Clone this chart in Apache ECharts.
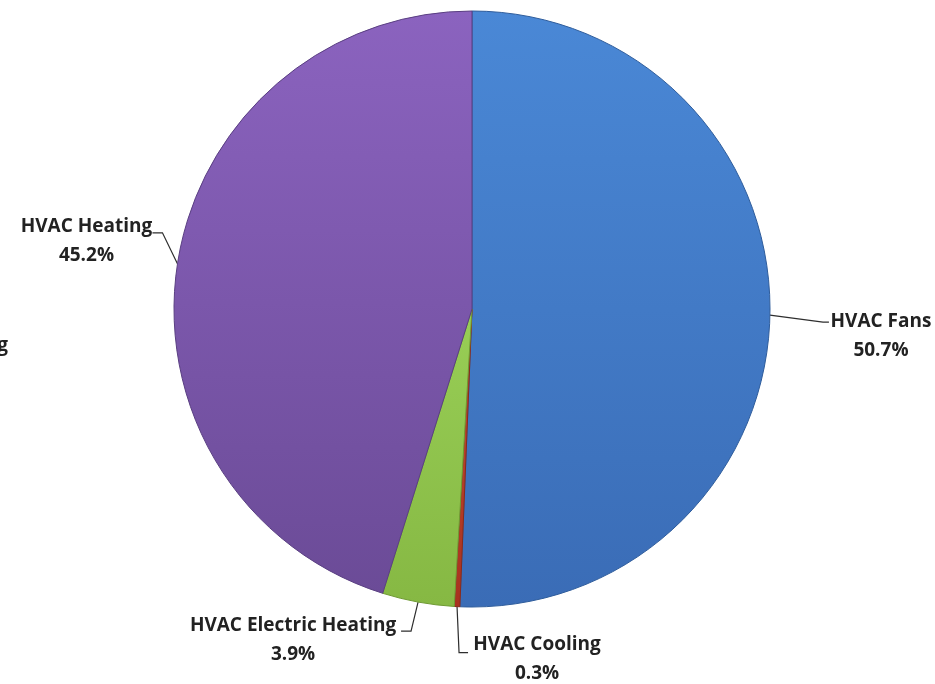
<!DOCTYPE html>
<html>
<head>
<meta charset="utf-8">
<script src="https://cdn.jsdelivr.net/npm/echarts@6/dist/echarts.min.js"></script>
<style>
  html, body { margin: 0; padding: 0; background: #ffffff; }
  #chart { width: 935px; height: 684px; }
</style>
</head>
<body>
<div id="chart"></div>
<script>
// HVAC energy end-use shares (percent)
const categories = ['HVAC Fans', 'HVAC Cooling', 'HVAC Electric Heating', 'HVAC Heating'];
const shares = [50.7, 0.3, 3.9, 45.2];

// Slice fills: lighter tone at the top, deeper tone at the bottom
const topColors = ['#4a88d6', '#c44a36', '#98ce56', '#8b63bf'];
const bottomColors = ['#3a6cb6', '#a8321f', '#86b843', '#6b4b97'];
const edgeColors = ['#2f5d9c', '#8a2a1a', '#6f9a34', '#5a3f82'];

// Where each label sits relative to the point where its leader leaves the rim:
// [text dx, text dy, elbow dx, elbow dy, end dx]
const labelOffsets = {
  'HVAC Fans': [111, 21, 53, 7, 6],
  'HVAC Cooling': [80, 52, 2, 46, 9],
  'HVAC Electric Heating': [-125, 38, -7, 29, -10],
  'HVAC Heating': [-91, -23, -15, -31, -10]
};

const FONT = '"Open Sans", Lato, sans-serif';

const chart = echarts.init(document.getElementById('chart'), null, { renderer: 'canvas' });

const data = categories.map((name, i) => ({
  name: name,
  value: shares[i],
  itemStyle: {
    color: new echarts.graphic.LinearGradient(0, 0, 0, 1, [
      { offset: 0, color: topColors[i] },
      { offset: 1, color: bottomColors[i] }
    ]),
    borderColor: edgeColors[i],
    borderWidth: 1
  }
}));

chart.setOption({
  backgroundColor: '#ffffff',
  animation: false,
  graphic: [{
    type: 'text',
    right: 927,
    top: 336,
    style: {
      text: 'Lighting',
      font: 'bold 19px ' + FONT,
      fill: '#222222'
    }
  }],
  series: [{
    type: 'pie',
    center: [472, 309],
    radius: 298,
    startAngle: 90,
    clockwise: true,
    data: data,
    label: {
      show: true,
      position: 'outside',
      formatter: (p) => p.name + '\n' + p.value.toFixed(1) + '%',
      color: '#222222',
      fontFamily: FONT,
      fontWeight: 'bold',
      fontSize: 19,
      lineHeight: 29,
      align: 'center'
    },
    labelLine: {
      show: true,
      length: 20,
      length2: 10,
      smooth: false,
      lineStyle: { color: '#2e2e2e', width: 1.2 }
    },
    labelLayout: function (params) {
      const name = categories[params.dataIndex];
      const off = labelOffsets[name];
      const p0 = params.labelLinePoints ? params.labelLinePoints[0] : [0, 0];
      const elbow = [p0[0] + off[2], p0[1] + off[3]];
      const end = [elbow[0] + off[4], elbow[1]];
      return {
        x: p0[0] + off[0],
        y: p0[1] + off[1],
        align: 'center',
        verticalAlign: 'middle',
        labelLinePoints: [p0, elbow, end]
      };
    },
    emphasis: { disabled: true }
  }]
});
</script>
</body>
</html>
